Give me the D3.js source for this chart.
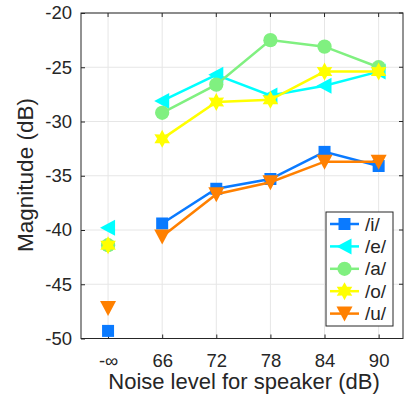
<!DOCTYPE html>
<html lang="en">
<head>
    <meta charset="UTF-8">
    <title>Magnitude vs noise level</title>
    <script src="https://d3js.org/d3.v7.min.js"></script>
    <style>
        body { margin: 0; background: #fff; }
        svg text { font-family: "Liberation Sans", Arial, sans-serif; fill: #262626; }
    </style>
</head>
<body>
<script>
    var w = 412, h = 403;
    var plotLeft = 81, plotRight = 403, plotTop = 13, plotBottom = 338.5;

    // x categories (first one is -inf, not joined to the lines)
    var xLabels = ["-\u221E", "66", "72", "78", "84", "90"];
    var yTicks = [-20, -25, -30, -35, -40, -45, -50];

    var vowels = ["/i/", "/e/", "/a/", "/o/", "/u/"];
    var colors = ["#0a7aff", "#00ffff", "#80f080", "#ffff00", "#ff8000"];
    var shapes = ["square", "triangleLeft", "circle", "hexagram", "triangleDown"];

    var iVals = [-49.3, -39.4, -36.2, -35.3, -32.8, -34.1];
    var eVals = [-39.8, -28.1, -25.7, -27.6, -26.7, -25.4];
    var aVals = [-41.4, -29.2, -26.6, -22.5, -23.1, -25.0];
    var oVals = [-41.4, -31.6, -28.2, -28.0, -25.4, -25.4];
    var uVals = [-47.2, -40.6, -36.7, -35.6, -33.7, -33.7];
    var series = [iVals, eVals, aVals, oVals, uVals];

    var x = d3.scaleLinear().domain([-0.5, 5.45]).range([plotLeft, plotRight]);
    var y = d3.scaleLinear().domain([-50, -20]).range([plotBottom, plotTop]);

    var svg = d3.select("body").append("svg")
        .attr("width", w).attr("height", h);

    // grid
    svg.append("g").selectAll("line").data(d3.range(xLabels.length)).enter()
        .append("line")
        .attr("x1", function(d) { return x(d); }).attr("x2", function(d) { return x(d); })
        .attr("y1", plotTop).attr("y2", plotBottom)
        .attr("stroke", "#e6e6e6").attr("stroke-width", 1);
    svg.append("g").selectAll("line").data(yTicks).enter()
        .append("line")
        .attr("x1", plotLeft).attr("x2", plotRight)
        .attr("y1", function(d) { return y(d); }).attr("y2", function(d) { return y(d); })
        .attr("stroke", "#e6e6e6").attr("stroke-width", 1);

    // axes (ticks inside, box on)
    var xAxis = d3.axisBottom(x).tickValues(d3.range(xLabels.length))
        .tickFormat(function(d) { return xLabels[d]; })
        .tickSizeInner(-4).tickSizeOuter(0).tickPadding(28);
    var gx = svg.append("g").attr("transform", "translate(0," + plotBottom + ")").call(xAxis);
    var yAxis = d3.axisLeft(y).tickValues(yTicks)
        .tickFormat(function(d) { return String(d); })   // plain hyphen, like the original
        .tickSizeInner(-4).tickSizeOuter(0).tickPadding(9);
    var gy = svg.append("g").attr("transform", "translate(" + plotLeft + ",0)").call(yAxis);
    [gx, gy].forEach(function(g) {
        g.select(".domain").remove();
        g.selectAll(".tick line").attr("stroke", "#262626");
        g.selectAll("text").attr("font-size", 18.5).attr("fill", "#262626");
    });
    gx.selectAll(".tick text").attr("dy", 0);

    // top and right ticks
    svg.append("g").selectAll("line").data(d3.range(xLabels.length)).enter()
        .append("line")
        .attr("x1", function(d) { return x(d); }).attr("x2", function(d) { return x(d); })
        .attr("y1", plotTop).attr("y2", plotTop + 4).attr("stroke", "#262626");
    svg.append("g").selectAll("line").data(yTicks).enter()
        .append("line")
        .attr("x1", plotRight - 4).attr("x2", plotRight)
        .attr("y1", function(d) { return y(d); }).attr("y2", function(d) { return y(d); })
        .attr("stroke", "#262626");

    svg.append("rect")
        .attr("x", plotLeft).attr("y", plotTop)
        .attr("width", plotRight - plotLeft).attr("height", plotBottom - plotTop)
        .attr("fill", "none").attr("stroke", "#262626").attr("stroke-width", 1);

    // marker shapes
    function markerPath(shape) {
        if (shape === "square") return "M-6,-6H6V6H-6Z";
        if (shape === "triangleLeft") return "M-8,0L7,-8L7,8Z";
        if (shape === "triangleDown") return "M-8,-7L8,-7L0,8Z";
        if (shape === "circle") return d3.symbol(d3.symbolCircle, 160)();
        // six-pointed star
        var pts = [];
        for (var k = 0; k < 12; k++) {
            var r = k % 2 === 0 ? 9 : 5;
            var a = -Math.PI / 2 + k * Math.PI / 6;
            pts.push([r * Math.cos(a), r * Math.sin(a)]);
        }
        return "M" + pts.map(function(p) { return p[0].toFixed(2) + "," + p[1].toFixed(2); }).join("L") + "Z";
    }

    var line = d3.line()
        .x(function(d) { return x(d.i); })
        .y(function(d) { return y(d.v); });

    series.forEach(function(vals, s) {
        var pts = vals.map(function(v, i) { return { i: i, v: v }; });
        var g = svg.append("g");
        g.append("path")
            .datum(pts.slice(1))
            .attr("d", line)
            .attr("fill", "none")
            .attr("stroke", colors[s])
            .attr("stroke-width", 2.5);
        g.selectAll("path.mk").data(pts).enter()
            .append("path").attr("class", "mk")
            .attr("d", markerPath(shapes[s]))
            .attr("transform", function(d) { return "translate(" + x(d.i) + "," + y(d.v) + ")"; })
            .attr("fill", colors[s]);
    });

    // legend
    var lg = svg.append("g");
    lg.append("rect")
        .attr("x", 326).attr("y", 212).attr("width", 67).attr("height", 114)
        .attr("fill", "#fff").attr("stroke", "#262626").attr("stroke-width", 1);
    vowels.forEach(function(name, s) {
        var ly = 224 + s * 22.4;
        lg.append("line").attr("x1", 330).attr("x2", 359).attr("y1", ly).attr("y2", ly)
            .attr("stroke", colors[s]).attr("stroke-width", 2.5);
        lg.append("path").attr("d", markerPath(shapes[s]))
            .attr("transform", "translate(344.5," + ly + ")")
            .attr("fill", colors[s]);
        lg.append("text").attr("x", 365).attr("y", ly).attr("dy", "0.35em")
            .attr("font-size", 19).text(name);
    });

    // axis labels
    svg.append("text")
        .attr("x", 244).attr("y", 389)
        .attr("text-anchor", "middle").attr("font-size", 22)
        .text("Noise level for speaker (dB)");
    svg.append("text")
        .attr("transform", "translate(33,175) rotate(-90)")
        .attr("text-anchor", "middle").attr("font-size", 22.5)
        .text("Magnitude (dB)");
</script>
</body>
</html>
